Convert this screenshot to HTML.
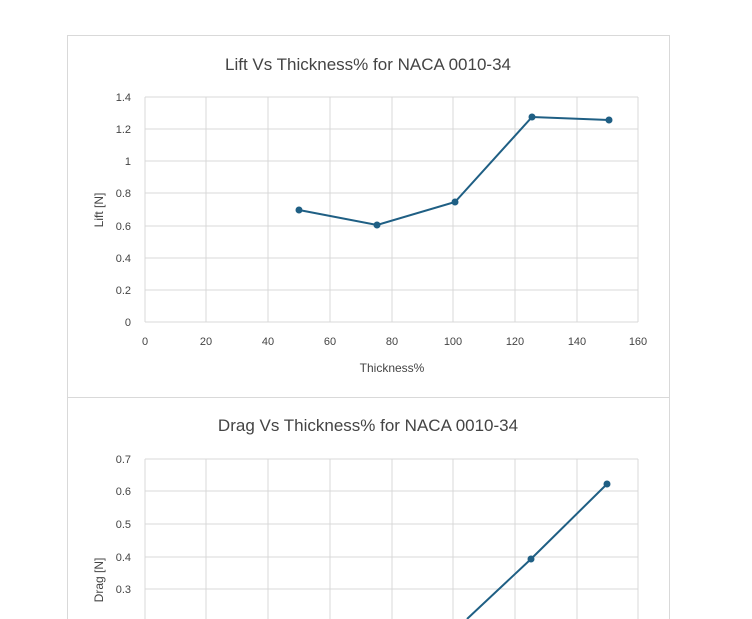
<!DOCTYPE html>
<html><head><meta charset="utf-8"><style>
body{margin:0;background:#fff;width:752px;height:619px;overflow:hidden}
svg{display:block}
text{font-family:"Liberation Sans",sans-serif;fill:#444}
</style></head><body>
<svg width="752" height="619" viewBox="0 0 752 619">
<rect x="67.5" y="35.5" width="602" height="362" fill="#fff" stroke="#d9d9d9"/>
<rect x="67.5" y="397.5" width="602" height="240" fill="#fff" stroke="#d9d9d9"/>
<text x="368" y="70" font-size="17" text-anchor="middle" fill="#555">Lift Vs Thickness% for NACA 0010-34</text>
<g stroke="#d9d9d9" stroke-width="1">
<line x1="145" y1="97" x2="638" y2="97"/><line x1="145" y1="129" x2="638" y2="129"/>
<line x1="145" y1="161" x2="638" y2="161"/><line x1="145" y1="193" x2="638" y2="193"/>
<line x1="145" y1="226" x2="638" y2="226"/><line x1="145" y1="258" x2="638" y2="258"/>
<line x1="145" y1="290" x2="638" y2="290"/><line x1="145" y1="322" x2="638" y2="322"/>
<line x1="145" y1="97" x2="145" y2="322"/><line x1="206" y1="97" x2="206" y2="322"/>
<line x1="268" y1="97" x2="268" y2="322"/><line x1="330" y1="97" x2="330" y2="322"/>
<line x1="392" y1="97" x2="392" y2="322"/><line x1="453" y1="97" x2="453" y2="322"/>
<line x1="515" y1="97" x2="515" y2="322"/><line x1="577" y1="97" x2="577" y2="322"/>
<line x1="638" y1="97" x2="638" y2="322"/>
</g>
<g font-size="11" text-anchor="end">
<text x="131" y="101">1.4</text><text x="131" y="133">1.2</text><text x="131" y="165">1</text>
<text x="131" y="197">0.8</text><text x="131" y="230">0.6</text><text x="131" y="262">0.4</text>
<text x="131" y="294">0.2</text><text x="131" y="326">0</text>
</g>
<g font-size="11" text-anchor="middle">
<text x="145" y="345">0</text><text x="206" y="345">20</text><text x="268" y="345">40</text>
<text x="330" y="345">60</text><text x="392" y="345">80</text><text x="453" y="345">100</text>
<text x="515" y="345">120</text><text x="577" y="345">140</text><text x="638" y="345">160</text>
</g>
<text x="392" y="372" font-size="12" text-anchor="middle">Thickness%</text>
<text x="0" y="0" font-size="12" text-anchor="middle" transform="translate(103,210) rotate(-90)">Lift [N]</text>
<polyline points="299,210 377,225 455,202 532,117 609,120" fill="none" stroke="#1f5f84" stroke-width="2"/>
<g fill="#1f5f84"><circle cx="299" cy="210" r="3.5"/><circle cx="377" cy="225" r="3.5"/><circle cx="455" cy="202" r="3.5"/><circle cx="532" cy="117" r="3.5"/><circle cx="609" cy="120" r="3.5"/></g>

<text x="368" y="431" font-size="17" text-anchor="middle" fill="#555">Drag Vs Thickness% for NACA 0010-34</text>
<g stroke="#d9d9d9" stroke-width="1">
<line x1="145" y1="459" x2="638" y2="459"/><line x1="145" y1="491" x2="638" y2="491"/>
<line x1="145" y1="524" x2="638" y2="524"/><line x1="145" y1="557" x2="638" y2="557"/>
<line x1="145" y1="589" x2="638" y2="589"/>
<line x1="145" y1="459" x2="145" y2="619"/><line x1="206" y1="459" x2="206" y2="619"/>
<line x1="268" y1="459" x2="268" y2="619"/><line x1="330" y1="459" x2="330" y2="619"/>
<line x1="392" y1="459" x2="392" y2="619"/><line x1="453" y1="459" x2="453" y2="619"/>
<line x1="515" y1="459" x2="515" y2="619"/><line x1="577" y1="459" x2="577" y2="619"/>
<line x1="638" y1="459" x2="638" y2="619"/>
</g>
<g font-size="11" text-anchor="end">
<text x="131" y="463">0.7</text><text x="131" y="495">0.6</text><text x="131" y="528">0.5</text>
<text x="131" y="561">0.4</text><text x="131" y="593">0.3</text>
</g>
<text x="0" y="0" font-size="12" text-anchor="middle" transform="translate(103,580) rotate(-90)">Drag [N]</text>
<polyline points="467,619 531,559 607,484" fill="none" stroke="#1f5f84" stroke-width="2"/>
<g fill="#1f5f84"><circle cx="531" cy="559" r="3.5"/><circle cx="607" cy="484" r="3.5"/></g>
</svg>
</body></html>
